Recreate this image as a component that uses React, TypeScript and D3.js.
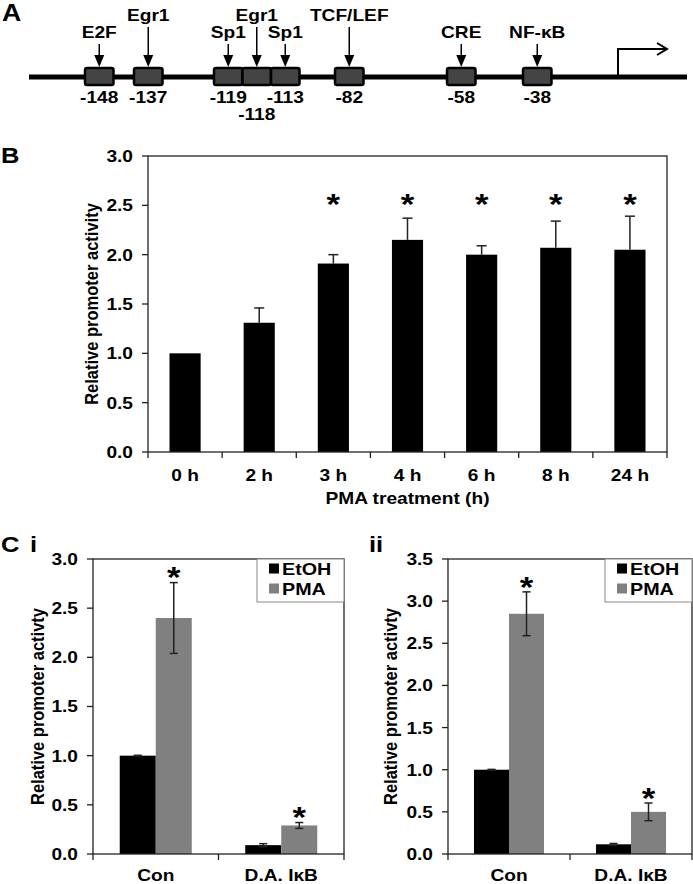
import React from "react";
import * as d3 from "d3";

const FONT = "'Liberation Sans', Arial, Helvetica, sans-serif";

// ---- Panel A: promoter elements ----
const siteNames = ["E2F", "Egr1", "Sp1", "Egr1", "Sp1", "TCF/LEF", "CRE", "NF-κB"];
const sitePositions = [-148, -137, -119, -118, -113, -82, -58, -38];

// ---- Panel B: PMA time course ----
const timeLabels = ["0 h", "2 h", "3 h", "4 h", "6 h", "8 h", "24 h"];
const timeMeans = [1.0, 1.31, 1.91, 2.15, 2.0, 2.07, 2.05];
const timeErrors = [0, 0.15, 0.09, 0.22, 0.09, 0.27, 0.34];
const timeSignificant = [false, false, true, true, true, true, true];
const bTicks = [0, 0.5, 1, 1.5, 2, 2.5, 3];

// ---- Panel C: Con vs D.A. IkB ----
const groups = ["Con", "D.A. IκB"];
const treatments = ["EtOH", "PMA"];
const ciEtoh = [1.0, 0.09];
const ciEtohErr = [0.004, 0.015];
const ciPma = [2.4, 0.29];
const ciPmaErr = [0.36, 0.03];
const ciSignificant = [true, true];
const ciTicks = [0, 0.5, 1, 1.5, 2, 2.5, 3];

const ciiEtoh = [1.0, 0.115];
const ciiEtohErr = [0.004, 0.01];
const ciiPma = [2.85, 0.5];
const ciiPmaErr = [0.26, 0.105];
const ciiSignificant = [true, true];
const ciiTicks = [0, 0.5, 1, 1.5, 2, 2.5, 3, 3.5];

const fmt = d3.format(".1f");
const AXIS = "#222";
const SX = 1.16; // the original figure's lettering is slightly wide

type TProps = {
  x: number;
  y: number;
  size?: number;
  anchor?: "start" | "middle" | "end";
  rotate?: boolean;
  dy?: string;
  children: React.ReactNode;
};

// bold label, stretched horizontally
function T({ x, y, size = 16.5, anchor = "start", rotate = false, dy, children }: TProps) {
  return (
    <text
      transform={`translate(${x},${y}) scale(${SX},1)${rotate ? " rotate(-90)" : ""}`}
      textAnchor={anchor}
      dy={dy}
      fontSize={size}
      fontWeight="bold"
    >
      {children}
    </text>
  );
}

function Star({ x, y, size = 30 }: { x: number; y: number; size?: number }) {
  // y = visual centre of the asterisk
  return (
    <T x={x} y={y + size * 0.56} size={size} anchor="middle">
      *
    </T>
  );
}

function PanelA() {
  // the schematic is not to scale: clusters are laid out on a piecewise scale
  const clusterStarts: number[] = [];
  const clusterOf: number[] = [];
  sitePositions.forEach((p, i) => {
    if (i === 0 || p - sitePositions[i - 1] > 8) clusterStarts.push(p);
    clusterOf.push(clusterStarts.length - 1);
  });
  const x = d3
    .scaleLinear()
    .domain([...clusterStarts, 0])
    .range([85, 134, 214, 335, 447, 523, 618]);
  const boxW = 28.5;
  const lineY = 77;
  const boxTop = 68;
  const boxH = 17;
  const raised = [false, true, false, true, false, true, false, false];

  const boxes = sitePositions.map((p, i) => {
    const c = clusterOf[i];
    const k = clusterOf.slice(0, i).filter((v) => v === c).length;
    const size = clusterOf.filter((v) => v === c).length;
    const left = x(clusterStarts[c]) + k * boxW;
    return { name: siteNames[i], pos: p, left, cx: left + boxW / 2, second: size === 3 && k === 1, raised: raised[i] };
  });

  const tss = x(0);
  return (
    <g>
      <T x={2} y={21} size={23}>A</T>
      <line x1={29} x2={687} y1={lineY} y2={lineY} stroke="#000" strokeWidth={5} />
      {boxes.map((b, i) => (
        <rect key={i} x={b.left} y={boxTop} width={boxW} height={boxH} rx={2} fill="#444" stroke="#000" strokeWidth={2.5} />
      ))}
      {boxes.map((b, i) => {
        const top = b.raised ? 27 : 44;
        const tip = boxTop - 1;
        return (
          <g key={"ar" + i}>
            <line x1={b.cx} x2={b.cx} y1={top} y2={tip - 10} stroke="#000" strokeWidth={1.5} />
            <path d={`M${b.cx - 5},${tip - 12} L${b.cx + 5},${tip - 12} L${b.cx},${tip} Z`} fill="#000" />
            <T x={b.cx} y={b.raised ? 21 : 38} anchor="middle">
              {b.name}
            </T>
            <T x={b.cx} y={b.second ? 120 : 103} anchor="middle">
              {b.pos}
            </T>
          </g>
        );
      })}
      <path d={`M${tss},${lineY} V49 H666`} fill="none" stroke="#000" strokeWidth={2} />
      <path d={`M657,43 L667,49 L657,55`} fill="none" stroke="#000" strokeWidth={2} />
    </g>
  );
}

function YAxis({ y, ticks, x0 }: { y: d3.ScaleLinear<number, number>; ticks: number[]; x0: number }) {
  return (
    <g>
      {ticks.map((t) => (
        <g key={t}>
          <line x1={x0 - 6} x2={x0} y1={y(t)} y2={y(t)} stroke={AXIS} strokeWidth={1.3} />
          <T x={x0 - 15} y={y(t)} dy="0.36em" anchor="end">
            {fmt(t)}
          </T>
        </g>
      ))}
    </g>
  );
}

function Frame({ x0, x1, y0, y1 }: { x0: number; x1: number; y0: number; y1: number }) {
  return <rect x={x0} y={y1} width={x1 - x0} height={y0 - y1} fill="none" stroke={AXIS} strokeWidth={1.3} />;
}

function PanelB() {
  const x0 = 148, x1 = 667, yTop = 156, yBot = 452;
  const x = d3.scaleBand<string>().domain(timeLabels).range([x0, x1]).paddingInner(0.58).paddingOuter(0.29);
  const y = d3.scaleLinear().domain([0, 3]).range([yBot, yTop]);
  const step = x.step();
  return (
    <g>
      <T x={1} y={163} size={22}>B</T>
      {timeLabels.map((t, i) => {
        const bx = x(t)!;
        const cx = bx + x.bandwidth() / 2;
        return (
          <g key={t}>
            <rect x={bx} y={y(timeMeans[i])} width={x.bandwidth()} height={yBot - y(timeMeans[i])} fill="#000" />
            {timeErrors[i] > 0 && (
              <g stroke={AXIS} strokeWidth={1.5}>
                <line x1={cx} x2={cx} y1={y(timeMeans[i])} y2={y(timeMeans[i] + timeErrors[i])} />
                <line x1={cx - 5} x2={cx + 5} y1={y(timeMeans[i] + timeErrors[i])} y2={y(timeMeans[i] + timeErrors[i])} />
              </g>
            )}
            {timeSignificant[i] && <Star x={cx} y={y(2.58)} />}
            <T x={cx} y={481} anchor="middle">{t}</T>
          </g>
        );
      })}
      {d3.range(timeLabels.length + 1).map((k) => (
        <line key={k} x1={x0 + k * step} x2={x0 + k * step} y1={yBot} y2={yBot + 6} stroke={AXIS} strokeWidth={1.3} />
      ))}
      <Frame x0={x0} x1={x1} y0={yBot} y1={yTop} />
      <YAxis y={y} ticks={bTicks} x0={x0} />
      <T x={91} y={(yTop + yBot) / 2} anchor="middle" dy="0.36em" rotate>
        Relative promoter activity
      </T>
      <T x={(x0 + x1) / 2} y={504} anchor="middle">PMA treatment (h)</T>
    </g>
  );
}

function PanelC({
  x0, x1, max, ticks, etoh, etohErr, pma, pmaErr, sig, yLabelX,
}: {
  x0: number; x1: number; max: number; ticks: number[];
  etoh: number[]; etohErr: number[]; pma: number[]; pmaErr: number[]; sig: boolean[];
  yLabelX: number;
}) {
  const yTop = 559, yBot = 854;
  const xg = d3.scaleBand<string>().domain(groups).range([x0, x1]).paddingInner(0.426).paddingOuter(0.213);
  const xt = d3.scaleBand<string>().domain(treatments).range([0, xg.bandwidth()]);
  const y = d3.scaleLinear().domain([0, max]).range([yBot, yTop]);
  const colour = d3.scaleOrdinal<string, string>().domain(treatments).range(["#000", "#808080"]);
  const step = xg.step();
  const legendX = x1 - 87;

  const errBar = (cx: number, m: number, e: number) => (
    <g stroke={AXIS} strokeWidth={1.5}>
      <line x1={cx} x2={cx} y1={y(m - e)} y2={y(m + e)} />
      <line x1={cx - 4} x2={cx + 4} y1={y(m + e)} y2={y(m + e)} />
      <line x1={cx - 4} x2={cx + 4} y1={y(m - e)} y2={y(m - e)} />
    </g>
  );

  return (
    <g>
      {groups.map((g, i) => {
        const gx = xg(g)!;
        const vals = [
          { t: treatments[0], m: etoh[i], e: etohErr[i] },
          { t: treatments[1], m: pma[i], e: pmaErr[i] },
        ];
        return (
          <g key={g}>
            {vals.map((v) => {
              const bx = gx + xt(v.t)!;
              const cx = bx + xt.bandwidth() / 2;
              return (
                <g key={v.t}>
                  <rect x={bx} y={y(v.m)} width={xt.bandwidth()} height={yBot - y(v.m)} fill={colour(v.t)} />
                  {errBar(cx, v.m, v.e)}
                  {v.t === "PMA" && sig[i] && <Star x={cx} y={y(v.m + v.e) - 12} />}
                </g>
              );
            })}
            <T x={gx + xg.bandwidth() / 2} y={881} anchor="middle">{g}</T>
          </g>
        );
      })}
      {d3.range(groups.length + 1).map((k) => (
        <line key={k} x1={x0 + k * step} x2={x0 + k * step} y1={yBot} y2={yBot + 6} stroke={AXIS} strokeWidth={1.3} />
      ))}
      <Frame x0={x0} x1={x1} y0={yBot} y1={yTop} />
      <YAxis y={y} ticks={ticks} x0={x0} />
      <T x={yLabelX} y={(yTop + yBot) / 2} anchor="middle" dy="0.36em" rotate>
        Relative promoter activty
      </T>
      <rect x={legendX} y={yTop} width={87} height={43} fill="#fff" stroke="#888" strokeWidth={1} />
      {treatments.map((t, k) => (
        <g key={t}>
          <rect x={legendX + 12} y={yTop + 4.5 + k * 20} width={10} height={10} fill={colour(t)} />
          <T x={legendX + 25} y={yTop + 16 + k * 20} size={17}>{t}</T>
        </g>
      ))}
    </g>
  );
}

export default function App() {
  return (
    <div style={{ position: "absolute", left: 0, top: 0 }}>
      <svg width={693} height={884} style={{ display: "block", background: "#fff" }} fontFamily={FONT}>
        <rect width={693} height={884} fill="#fff" />
        <PanelA />
        <PanelB />
        <T x={1} y={552} size={22}>C</T>
        <T x={30} y={552} size={22}>i</T>
        <PanelC
          x0={93} x1={344} max={3} ticks={ciTicks}
          etoh={ciEtoh} etohErr={ciEtohErr} pma={ciPma} pmaErr={ciPmaErr} sig={ciSignificant}
          yLabelX={37}
        />
        <T x={369} y={552} size={22}>ii</T>
        <PanelC
          x0={448} x1={692} max={3.5} ticks={ciiTicks}
          etoh={ciiEtoh} etohErr={ciiEtohErr} pma={ciiPma} pmaErr={ciiPmaErr} sig={ciiSignificant}
          yLabelX={390}
        />
      </svg>
    </div>
  );
}
